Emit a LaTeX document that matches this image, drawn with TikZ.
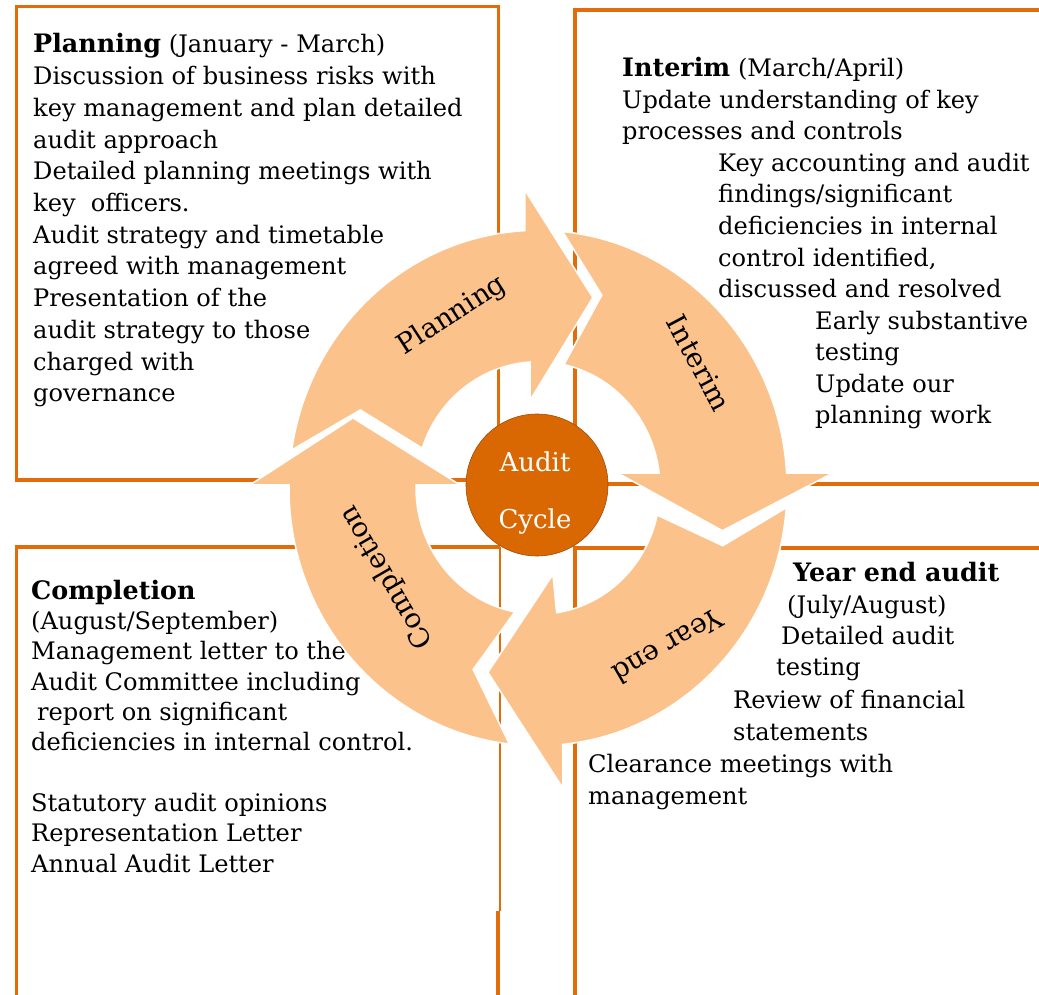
\documentclass[tikz,border=0pt]{standalone}
\usepackage{fontspec}
\setmainfont{DejaVu Serif}
\definecolor{boxorange}{RGB}{226,108,10}
\definecolor{peach}{RGB}{252,194,140}
\definecolor{circfill}{RGB}{217,104,2}
\definecolor{circline}{RGB}{160,78,10}
\newcommand{\hdtext}[1]{{\fontsize{25.4}{30}\selectfont\bfseries #1}}
\tikzset{
  boxline/.style={draw=boxorange, line width=3.6pt},
  txt/.style={anchor=base west, inner sep=0pt, font=\fontsize{24.1}{30}\selectfont},
  arrowshape/.style={fill=peach, draw=white, line width=1.5pt, line join=miter},
  arrlabel/.style={inner sep=0pt, font=\fontsize{27.5}{30}\selectfont},
  cyctext/.style={inner sep=0pt, anchor=base, text=white, font=\fontsize{26}{30}\selectfont}
}
\begin{document}
\begin{tikzpicture}[x=1pt,y=1pt]
\useasboundingbox (0,0) rectangle (1039,-995);
\clip (0,0) rectangle (1039,-995);
% boxes
\draw[boxline] (16.5,-6.5) rectangle (498.5,-480);
\draw[boxline] (575,-10) -- (1060,-10);
\draw[boxline] (575,-8.2) -- (575,-484) -- (1060,-484);
\draw[boxline] (16.5,-1010) -- (16.5,-547) -- (499.5,-547);
\draw[draw=boxorange, line width=2pt] (499.5,-547) -- (499.5,-911);
\draw[boxline] (498,-911) -- (498,-1010);
\draw[boxline] (575,-1010) -- (575,-548) -- (1060,-548);

% top-left text
\node[txt] (tl1) at (33,-53) {\hdtext{Planning} (January - March)};
\node[txt] (tl2) at (33,-84.7) {Discussion of business risks with};
\node[txt] (tl3) at (33,-116.4) {key management and plan detailed};
\node[txt] (tl4) at (33,-148.1) {audit approach};
\node[txt] (tl5) at (33,-179.8) {Detailed planning meetings with};
\node[txt] (tl6) at (33,-211.5) {key\ \ officers.};
\node[txt] (tl7) at (33,-243.2) {Audit strategy and timetable};
\node[txt] (tl8) at (33,-274.9) {agreed with management};
\node[txt] (tl9) at (33,-306.6) {Presentation of the};
\node[txt] (tl10) at (33,-338.3) {audit strategy to those};
\node[txt] (tl11) at (33,-370) {charged with};
\node[txt] (tl12) at (33,-401.7) {governance};

% top-right text
\node[txt] (tr1) at (622,-77) {\hdtext{Interim} (March/April)};
\node[txt] (tr2) at (622,-108.5) {Update understanding of key};
\node[txt] (tr3) at (622,-140) {processes and controls};
\node[txt] (tr4) at (718,-171.5) {Key accounting and audit};
\node[txt] (tr5) at (718,-203) {findings/significant};
\node[txt] (tr6) at (718,-234.5) {deficiencies in internal};
\node[txt] (tr7) at (718,-266) {control identified,};
\node[txt] (tr8) at (718,-297.5) {discussed and resolved};
\node[txt] (tr9) at (815,-329) {Early substantive};
\node[txt] (tr10) at (815,-360.5) {testing};
\node[txt] (tr11) at (815,-392) {Update our};
\node[txt] (tr12) at (815,-423.5) {planning work};

% bottom-left text
\node[txt] (bl1) at (31,-599) {\hdtext{Completion}};
\node[txt] (bl2) at (31,-629) {(August/September)};
\node[txt] (bl3) at (31,-659.5) {Management letter to the};
\node[txt] (bl4) at (31,-690) {Audit Committee including};
\node[txt] (bl5) at (37,-720) {report on significant};
\node[txt] (bl6) at (31,-750.5) {deficiencies in internal control.};
\node[txt] (bl7) at (31,-811) {Statutory audit opinions};
\node[txt] (bl8) at (31,-841.5) {Representation Letter};
\node[txt] (bl9) at (31,-872) {Annual Audit Letter};

% bottom-right text
\node[txt] (br1) at (793,-581) {\hdtext{Year end audit}};
\node[txt] (br2) at (787,-613) {(July/August)};
\node[txt] (br3) at (781,-644.5) {Detailed audit};
\node[txt] (br4) at (776,-675.5) {testing};
\node[txt] (br5) at (733,-708) {Review of financial};
\node[txt] (br6) at (733,-740) {statements};
\node[txt] (br7) at (588,-772) {Clearance meetings with};
\node[txt] (br8) at (588,-804) {management};

% circular arrows
\begin{scope}[shift={(538,-488)}, yscale=1.035]
  % Planning
  \path[arrowshape] (171.5:249) arc[start angle=171.5, end angle=93, radius=249]
     -- (92.6:288) -- (73.4:192) -- (95.4:85) -- (93.7:122)
     arc[start angle=93.7, end angle=161.6, radius=122] -- (157:193) -- cycle;
  % Interim
  \path[arrowshape] (84.3:249) arc[start angle=84.3, end angle=3.3, radius=249]
     -- (2.8:295) -- (-12.6:189) -- (10.3:81) -- (6.8:122)
     arc[start angle=6.8, end angle=77.7, radius=122] -- (71.1:197) -- cycle;
  % Year end
  \path[arrowshape] (-4.4:249) arc[start angle=-4.4, end angle=-84.3, radius=249]
     -- (-85.1:291) -- (-105.7:185) -- (-79.9:85) -- (-81.2:122)
     arc[start angle=-81.2, end angle=-12.4, radius=122] -- (-16.8:193) -- cycle;
  % Completion
  \path[arrowshape] (-96.6:249) arc[start angle=-96.6, end angle=-180.7, radius=249]
     -- (-180.6:288) -- (-200.1:197) -- (-182.2:78) -- (-181.4:122)
     arc[start angle=-181.4, end angle=-101, radius=122] -- (-110.3:187) -- cycle;
\end{scope}

% arrow labels
\node[arrlabel, rotate=33] (lp) at (452,-316) {Planning};
\node[arrlabel, rotate=-62] (li) at (699,-363) {Interim};
\node[arrlabel, rotate=210] (ly) at (668,-647) {Year end};
\node[arrlabel, rotate=120] (lc) at (387,-577) {Completion};

% centre circle
\node[circle, fill=circfill, draw=circline, line width=0.6pt, minimum size=142pt, inner sep=0pt] (cyc) at (537,-485) {};
\node[cyctext] (aud) at (535,-471.5) {Audit};
\node[cyctext] (cyl) at (535,-528) {Cycle};
\end{tikzpicture}
\end{document}
